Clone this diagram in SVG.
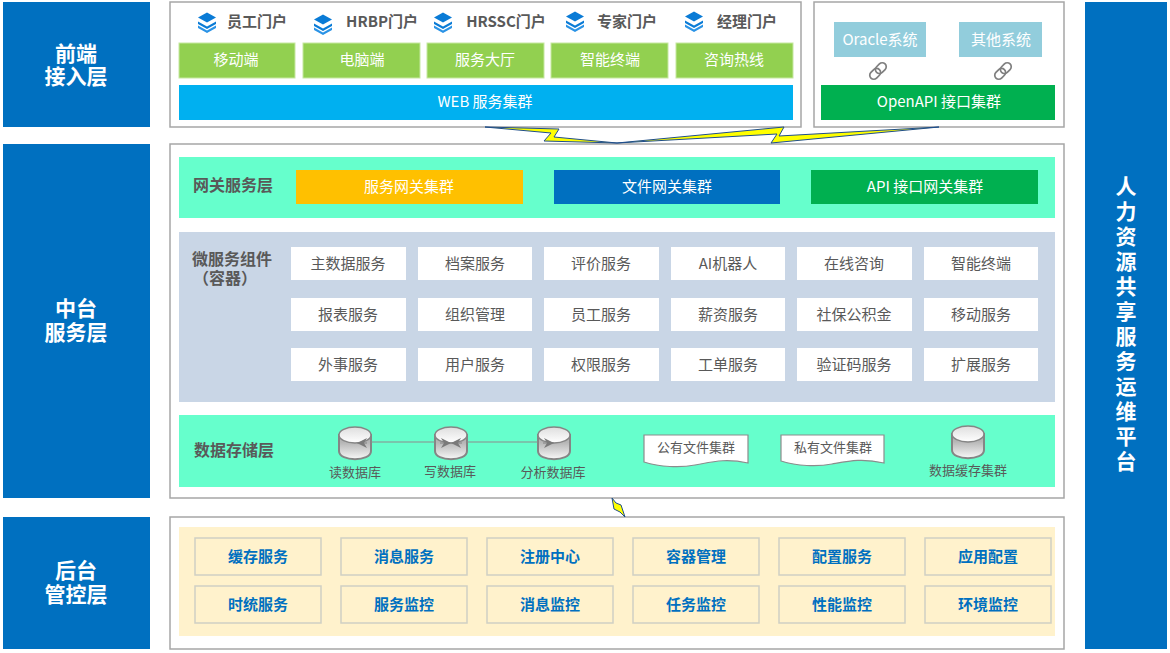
<svg xmlns="http://www.w3.org/2000/svg" xmlns:xlink="http://www.w3.org/1999/xlink" width="1170" height="653" viewBox="0 0 1170 653">
<style>
text{font-family:"Noto Sans CJK SC","Liberation Sans",sans-serif;text-anchor:middle;dominant-baseline:central;transform:translateY(-2px)}
.layer{fill:#0070c0}
.layerT{fill:#fff;font-size:21px;font-weight:700}
.frame{fill:#fff;stroke:#a6a6a6;stroke-width:1.5}
.portal{fill:#595959;font-size:15px;font-weight:700}
.g{fill:#92d050;stroke:#c6e8a0;stroke-width:1}
.w{fill:#fff;font-size:15px}
.sec{fill:#595959;font-size:16px;font-weight:700;text-anchor:start;text-spacing-trim:space-all}
.ms{fill:#fff}
.mst{fill:#595959;font-size:15px}
.bk{fill:#fff2cc;stroke:#cfcfc4;stroke-width:1.5}
.bkt{fill:#0070c0;font-size:15px;font-weight:700}
.dbt{fill:#595959;font-size:13px}
.bolt{fill:#ffff00;stroke:#1f4e8c;stroke-width:1}
.conn{fill:none;stroke:#8c8c8c;stroke-width:1.2}
.doc{fill:#fff;stroke:#8c8c8c;stroke-width:1.2}
.cyl{fill:url(#cg);stroke:#858585;stroke-width:2}
.cylTop{fill:url(#ct);stroke:#858585;stroke-width:1.5}
.link{fill:none;stroke:#7f7f7f;stroke-width:1.7}
</style>
<defs>
<linearGradient id="cg" x1="0" y1="0" x2="0" y2="1"><stop offset="0.3" stop-color="#b5b5b5"/><stop offset="1" stop-color="#f8f8f8"/></linearGradient>
<linearGradient id="ct" x1="0" y1="0" x2="0" y2="1"><stop offset="0" stop-color="#dedede"/><stop offset="1" stop-color="#ffffff"/></linearGradient>
<marker id="ah" viewBox="0 0 10 10" refX="10" refY="5" markerWidth="11" markerHeight="10" markerUnits="userSpaceOnUse" orient="auto-start-reverse"><path d="M0 0L10 5L0 10L3 5Z" fill="#7a7a7a"/></marker>
<g id="stack"><path d="M0-9.500L9 -4.500L0 .5L-9 -4.500Z" fill="#0a7bd6"/><path d="M-9-.5L0 4.500L9 -.5V2L0 7L-9 2Z" fill="#0a7bd6"/><path d="M-9 3.500L0 8.500L9 3.500V6L0 11L-9 6Z" fill="#2a93e6"/></g>
<g id="chain"><rect x="-10" y="-4" width="12" height="8" rx="4" class="link" transform="rotate(-45)"/><rect x="-2" y="-4" width="12" height="8" rx="4" class="link" transform="rotate(-45)"/></g>
<g id="dbc"><path class="cyl" d="M-16-8V8C-16 19 16 19 16 8V-8Z"/><ellipse class="cylTop" rx="16" ry="8" cy="-8"/></g>
</defs>

<g id="layer-front"><rect class="layer" x="3" y="2" width="147" height="125"/><text class="layerT" x="76" y="54">前端</text><text class="layerT" x="76" y="77">接入层</text></g>
<g id="layer-mid"><rect class="layer" x="3" y="144" width="147" height="354"/><text class="layerT" x="76" y="309">中台</text><text class="layerT" x="76" y="333">服务层</text></g>
<g id="layer-back"><rect class="layer" x="3" y="517" width="147" height="132"/><text class="layerT" x="76" y="571">后台</text><text class="layerT" x="76" y="595">管控层</text></g>
<g id="platform"><rect class="layer" x="1085" y="2" width="82" height="647"/>
<text fill="#fff" font-size="21" font-weight="700"><tspan x="1126" y="187">人</tspan><tspan x="1126" y="212">力</tspan><tspan x="1126" y="237">资</tspan><tspan x="1126" y="262">源</tspan><tspan x="1126" y="287">共</tspan><tspan x="1126" y="312">享</tspan><tspan x="1126" y="337">服</tspan><tspan x="1126" y="362">务</tspan><tspan x="1126" y="387">运</tspan><tspan x="1126" y="412">维</tspan><tspan x="1126" y="437">平</tspan><tspan x="1126" y="462">台</tspan></text></g>

<g id="frames"><rect class="frame" x="170" y="2" width="631" height="125"/><rect class="frame" x="814" y="2" width="250" height="125"/><rect class="frame" x="170" y="144" width="894" height="354"/><rect class="frame" x="170" y="517" width="894" height="132"/></g>

<g id="portals">
<use href="#stack" x="207" y="22"/><text class="portal" x="257" y="22">员工门户</text>
<use href="#stack" x="323" y="24"/><text class="portal" x="382" y="22">HRBP门户</text>
<use href="#stack" x="443" y="22"/><text class="portal" x="506" y="22">HRSSC门户</text>
<use href="#stack" x="575" y="21"/><text class="portal" x="627" y="22">专家门户</text>
<use href="#stack" x="694" y="21"/><text class="portal" x="747" y="22">经理门户</text>
</g>
<g id="channels">
<rect class="g" x="179" y="43" width="116" height="35"/><text class="w" x="236" y="60">移动端</text>
<rect class="g" x="303" y="43" width="117" height="35"/><text class="w" x="362" y="60">电脑端</text>
<rect class="g" x="427" y="43" width="117" height="35"/><text class="w" x="485" y="60">服务大厅</text>
<rect class="g" x="551" y="43" width="117" height="35"/><text class="w" x="610" y="60">智能终端</text>
<rect class="g" x="676" y="43" width="117" height="35"/><text class="w" x="734" y="60">咨询热线</text>
</g>
<g id="web"><rect x="179" y="85" width="614" height="35" fill="#00b0f0"/><text class="w" x="485" y="102">WEB 服务集群</text></g>
<g id="oracle"><rect x="834" y="22" width="92" height="35" fill="#92cddc"/><text class="w" x="880" y="40">Oracle系统</text></g>
<g id="other"><rect x="959" y="22" width="83" height="35" fill="#92cddc"/><text class="w" x="1001" y="40">其他系统</text></g>
<g id="openapi"><rect x="821" y="85" width="234" height="35" fill="#00b050"/><text class="w" x="939" y="102">OpenAPI 接口集群</text></g>

<g id="gateway"><rect x="179" y="157" width="876" height="61" fill="#66ffcc"/><text class="sec" x="193" y="186">网关服务层</text>
<rect x="296" y="170" width="227" height="34" fill="#ffc000"/><text class="w" x="409" y="187">服务网关集群</text>
<rect x="554" y="170" width="226" height="34" fill="#0070c0"/><text class="w" x="667" y="187">文件网关集群</text>
<rect x="811" y="170" width="227" height="34" fill="#00b050"/><text class="w" x="925" y="187">API 接口网关集群</text></g>

<g id="micro"><rect x="179" y="232" width="876" height="170" fill="#c9d6e6"/><text class="sec" x="192" y="260">微服务组件</text><text class="sec" x="193" y="279">（容器）</text>
<rect class="ms" x="291" y="247" width="115" height="33"/><text class="mst" x="348" y="264">主数据服务</text>
<rect class="ms" x="418" y="247" width="114" height="33"/><text class="mst" x="475" y="264">档案服务</text>
<rect class="ms" x="544" y="247" width="115" height="33"/><text class="mst" x="601" y="264">评价服务</text>
<rect class="ms" x="671" y="247" width="114" height="33"/><text class="mst" x="728" y="264">AI机器人</text>
<rect class="ms" x="797" y="247" width="115" height="33"/><text class="mst" x="854" y="264">在线咨询</text>
<rect class="ms" x="924" y="247" width="114" height="33"/><text class="mst" x="981" y="264">智能终端</text>
<rect class="ms" x="291" y="298" width="115" height="33"/><text class="mst" x="348" y="315">报表服务</text>
<rect class="ms" x="418" y="298" width="114" height="33"/><text class="mst" x="475" y="315">组织管理</text>
<rect class="ms" x="544" y="298" width="115" height="33"/><text class="mst" x="601" y="315">员工服务</text>
<rect class="ms" x="671" y="298" width="114" height="33"/><text class="mst" x="728" y="315">薪资服务</text>
<rect class="ms" x="797" y="298" width="115" height="33"/><text class="mst" x="854" y="315">社保公积金</text>
<rect class="ms" x="924" y="298" width="114" height="33"/><text class="mst" x="981" y="315">移动服务</text>
<rect class="ms" x="291" y="348" width="115" height="33"/><text class="mst" x="348" y="365">外事服务</text>
<rect class="ms" x="418" y="348" width="114" height="33"/><text class="mst" x="475" y="365">用户服务</text>
<rect class="ms" x="544" y="348" width="115" height="33"/><text class="mst" x="601" y="365">权限服务</text>
<rect class="ms" x="671" y="348" width="114" height="33"/><text class="mst" x="728" y="365">工单服务</text>
<rect class="ms" x="797" y="348" width="115" height="33"/><text class="mst" x="854" y="365">验证码服务</text>
<rect class="ms" x="924" y="348" width="114" height="33"/><text class="mst" x="981" y="365">扩展服务</text></g>

<g id="storage"><rect x="179" y="415" width="876" height="72" fill="#66ffcc"/><text class="sec" x="194" y="451">数据存储层</text></g>
<g id="db-read"><use href="#dbc" x="355" y="443"/><text class="dbt" x="355" y="473">读数据库</text></g>
<g id="db-write"><use href="#dbc" x="451" y="443"/><text class="dbt" x="450" y="472">写数据库</text></g>
<g id="db-analysis"><use href="#dbc" x="554" y="443"/><text class="dbt" x="553" y="473">分析数据库</text></g>
<g id="doc-public"><path class="doc" d="M644 435H748V463C725 458 712 462 695 465C680 468 660 467 644 462Z"/><text class="dbt" x="696" y="448">公有文件集群</text></g>
<g id="doc-private"><path class="doc" d="M781 435H884V463C862 458 849 461 832 464C817 467 797 466 781 461Z"/><text class="dbt" x="833" y="448">私有文件集群</text></g>
<g id="db-cache"><use href="#dbc" x="968" y="442"/><text class="dbt" x="968" y="471">数据缓存集群</text></g>

<g id="backend"><rect x="179" y="527" width="876" height="109" fill="#fff2cc"/>
<rect class="bk" x="195" y="538" width="126" height="37"/><text class="bkt" x="258" y="557">缓存服务</text>
<rect class="bk" x="341" y="538" width="126" height="37"/><text class="bkt" x="404" y="557">消息服务</text>
<rect class="bk" x="487" y="538" width="126" height="37"/><text class="bkt" x="550" y="557">注册中心</text>
<rect class="bk" x="633" y="538" width="126" height="37"/><text class="bkt" x="696" y="557">容器管理</text>
<rect class="bk" x="779" y="538" width="126" height="37"/><text class="bkt" x="842" y="557">配置服务</text>
<rect class="bk" x="925" y="538" width="126" height="37"/><text class="bkt" x="988" y="557">应用配置</text>
<rect class="bk" x="195" y="586" width="126" height="37"/><text class="bkt" x="258" y="605">时统服务</text>
<rect class="bk" x="341" y="586" width="126" height="37"/><text class="bkt" x="404" y="605">服务监控</text>
<rect class="bk" x="487" y="586" width="126" height="37"/><text class="bkt" x="550" y="605">消息监控</text>
<rect class="bk" x="633" y="586" width="126" height="37"/><text class="bkt" x="696" y="605">任务监控</text>
<rect class="bk" x="779" y="586" width="126" height="37"/><text class="bkt" x="842" y="605">性能监控</text>
<rect class="bk" x="925" y="586" width="126" height="37"/><text class="bkt" x="988" y="605">环境监控</text></g>

<g id="connectors">
<path class="conn" d="M371 442H435M467 442H538"/>
<path class="conn" d="M367 443H357" marker-end="url(#ah)"/>
<path class="conn" d="M440 443H451" marker-end="url(#ah)"/>
<path class="conn" d="M462 443H451" marker-end="url(#ah)"/>
<path class="conn" d="M543 443H554" marker-end="url(#ah)"/>
<use href="#chain" x="878" y="71"/>
<use href="#chain" x="1003" y="71"/>
<path class="bolt" d="M485 127L559 129L554 137L617 143L544 141L551 133Z"/>
<path class="bolt" d="M617 143L784 127L779 136L939 127L771 143L777 134Z"/>
<path class="bolt" d="M612 498L616 503L621 505L625 517L620 512L614 509Z"/>
</g>
</svg>
